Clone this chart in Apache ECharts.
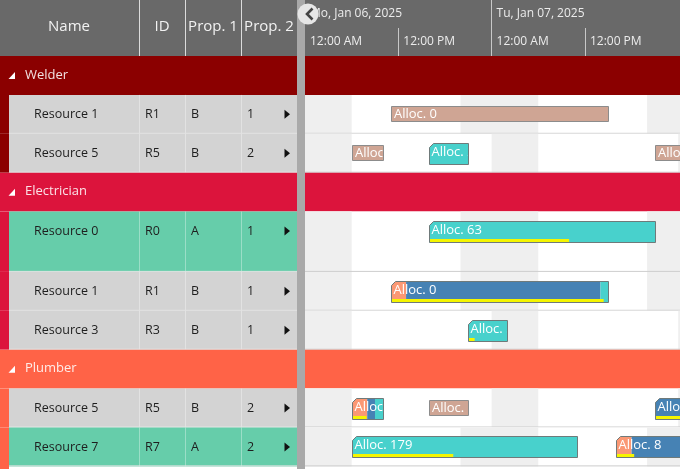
<!DOCTYPE html>
<html>
<head>
<meta charset="utf-8">
<script src="https://cdn.jsdelivr.net/npm/echarts@6.0.0/dist/echarts.min.js"></script>
<style>
html,body{margin:0;padding:0;background:#ffffff;}
#chart{width:680px;height:469px;}
</style>
</head>
<body>
<div id="chart"></div>
<script>
// ================= DATA =================
const columnHeaders = ['Name', 'ID', 'Prop. 1', 'Prop. 2'];
const dayTickValues = [0, 24];
const dayTickLabels = ['Mo, Jan 06, 2025', 'Tu, Jan 07, 2025'];
const hourTickValues = [0, 12, 24, 36];
const hourTickLabels = ['12:00 AM', '12:00 PM', '12:00 AM', '12:00 PM'];

const groupNames = ['Welder', 'Electrician', 'Plumber'];

const resourceNames = ['Resource 1', 'Resource 5', 'Resource 0', 'Resource 1', 'Resource 3', 'Resource 5', 'Resource 7'];
const resourceIds   = ['R1', 'R5', 'R0', 'R1', 'R3', 'R5', 'R7'];
const resourceGroup = [0, 0, 1, 1, 1, 2, 2];
const resourceProp1 = ['B', 'B', 'A', 'B', 'B', 'B', 'A'];
const resourceProp2 = ['1', '2', '1', '1', '1', '2', '2'];
// working hours of each resource (hour of day)
const shiftStartHour = [6, 6, 6, 6, 6, 6, 6];
const shiftEndHour   = [20, 24, 20, 20, 24, 24, 20];

// allocations: hours counted from Mon, Jan 06 2025 12:00 AM
const allocResource = [0, 1, 1, 1, 2, 3, 4, 5, 5, 5, 6, 6];
const allocStart    = [11, 6, 16, 45, 16, 11, 21, 6, 16, 45, 6, 40];
const allocEnd      = [39, 10, 21, 53, 45, 39, 26, 10, 21, 53, 35, 53];
const allocInGroup  = [0, 0, 1, 0, 1, 1, 1, 1, 0, 1, 1, 1];   // 0 = assigned through another group
const allocSetupEnd = [11, 6, 16, 45, 16, 13, 21, 8, 16, 45, 6, 42];
const allocRunEnd   = [11, 6, 16, 45, 16, 38, 21, 9, 16, 53, 6, 53];
const allocProgress = [0, 0, 0, 0, 0.62, 0.98, 0.17, 0.47, 0, 0.6, 0.45, 0.18];
const allocLabels   = ['Alloc. 0', 'Alloc. 94', 'Alloc. 22', 'Alloc. 118', 'Alloc. 63', 'Alloc. 0',
                       'Alloc. 51', 'Alloc. 94', 'Alloc. 22', 'Alloc. 118', 'Alloc. 179', 'Alloc. 8'];

// ================= LAYOUT / STYLE =================
const W = 680, H = 469;
const HEADER_H = 56;
const TABLE_W = 297;
const TIMELINE_LEFT = 305;
const ROW_PX = 38.9;
const resourceRowSpan = [1, 1, 1.55, 1, 1, 1, 1];
const VIEW_HOURS = 48.23;
const FONT = '"Open Sans", "Noto Sans", sans-serif';
const colTextX = [34, 145, 191, 247];
const colLineX = [139.5, 185.5, 241.5];
const headerCenterX = [69, 162, 213, 269];
const groupColors = ['#8b0000', '#dc143c', '#ff6347'];
const rowColors = { A: '#66cdaa', B: '#d3d3d3' };
const phaseColors = ['#fb9874', '#4682b4', '#48d1cc'];
const foreignColor = '#cfa594';
const offColor = '#efefef';

// rows built from the data
const rows = [];
const resRowY0 = [];
let acc = 0;
groupNames.forEach((g, gi) => {
  rows.push({ kind: 'group', gi: gi, ri: -1, y0: acc, y1: acc + 1 });
  acc += 1;
  resourceGroup.forEach((rg, ri) => {
    if (rg === gi) {
      rows.push({ kind: 'res', gi: gi, ri: ri, y0: acc, y1: acc + resourceRowSpan[ri] });
      resRowY0[ri] = acc;
      acc += resourceRowSpan[ri];
    }
  });
});
const yMax = (H - HEADER_H) / ROW_PX;

// ================= RENDERERS =================
function renderTable(params, api) {
  const r = rows[params.dataIndex];
  const y0 = api.coord([0, api.value(0)])[1];
  let y1 = api.coord([0, api.value(1)])[1];
  const X = v => api.coord([v, 0])[0];
  const gc = groupColors[r.gi];
  const kids = [];
  if (r.kind === 'group') {
    const cy = (y0 + y1) / 2;
    kids.push({ type: 'rect', shape: { x: X(0), y: y0, width: X(TABLE_W) - X(0), height: y1 - y0 }, style: { fill: gc } });
    kids.push({ type: 'polygon', shape: { points: [[X(15), cy - 3.5], [X(15), cy + 3.5], [X(8.5), cy + 3.5]] }, style: { fill: '#ffffff' } });
    kids.push({ type: 'text', style: { text: groupNames[r.gi], x: X(25), y: cy - 0.5, fill: 'rgba(255,255,255,0.88)',
      font: '13px ' + FONT, align: 'left', verticalAlign: 'middle' } });
  } else {
    const last = params.dataIndex === rows.length - 1;
    const stripBottom = last ? api.coord([0, yMax])[1] : y1;
    const ty = y0 + ROW_PX / 2;
    kids.push({ type: 'rect', shape: { x: X(0), y: y0, width: X(9) - X(0), height: stripBottom - y0 }, style: { fill: gc } });
    kids.push({ type: 'rect', shape: { x: X(9), y: y0, width: X(TABLE_W) - X(9), height: y1 - y0 }, style: { fill: rowColors[resourceProp1[r.ri]] } });
    colLineX.forEach(cx => {
      kids.push({ type: 'line', shape: { x1: X(cx), y1: y0, x2: X(cx), y2: y1 }, style: { stroke: 'rgba(255,255,255,0.35)', lineWidth: 1 } });
    });
    kids.push({ type: 'line', shape: { x1: X(9), y1: y1 - 0.5, x2: X(TABLE_W), y2: y1 - 0.5 }, style: { stroke: '#e4e4e4', lineWidth: 1 } });
    const vals = [resourceNames[r.ri], resourceIds[r.ri], resourceProp1[r.ri], resourceProp2[r.ri]];
    vals.forEach((t, k) => {
      kids.push({ type: 'text', style: { text: t, x: X(colTextX[k]), y: ty, fill: '#1e1e1e', font: '12.5px ' + FONT,
        align: 'left', verticalAlign: 'middle' } });
    });
    kids.push({ type: 'polygon', shape: { points: [[X(284.5), ty - 4.5], [X(290), ty], [X(284.5), ty + 4.5]] }, style: { fill: '#111111' } });
  }
  return { type: 'group', children: kids };
}

function renderTimelineRow(params, api) {
  const r = rows[params.dataIndex];
  const y0 = api.coord([0, api.value(0)])[1];
  const y1 = api.coord([0, api.value(1)])[1];
  const xa = api.coord([0, 0])[0];
  const xb = api.coord([VIEW_HOURS, 0])[0];
  const kids = [];
  if (r.kind === 'group') {
    kids.push({ type: 'rect', shape: { x: xa, y: y0, width: xb - xa, height: y1 - y0 }, style: { fill: groupColors[r.gi] } });
  } else {
    kids.push({ type: 'rect', shape: { x: xa, y: y0, width: xb - xa, height: y1 - y0 }, style: { fill: '#ffffff' } });
    const s = shiftStartHour[r.ri], e = shiftEndHour[r.ri];
    for (let d = 0; d < 3; d++) {
      const a = (d - 1) * 24 + e, b = d * 24 + s;
      if (b > a) {
        const pa = api.coord([a, 0])[0], pb = api.coord([b, 0])[0];
        kids.push({ type: 'rect', shape: { x: pa, y: y0, width: pb - pa, height: y1 - y0 }, style: { fill: offColor } });
      }
    }
    kids.push({ type: 'line', shape: { x1: xa, y1: y1 - 0.5, x2: xb, y2: y1 - 0.5 }, style: { stroke: '#cdcdcd', lineWidth: 1 } });
  }
  return { type: 'group', children: kids };
}

function renderAlloc(params, api) {
  const i = params.dataIndex;
  const ri = allocResource[i];
  const top = api.coord([0, resRowY0[ri]])[1];
  const bot = api.coord([0, resRowY0[ri] + 1])[1];
  const cy = (top + bot) / 2;
  const xs = Math.round(api.coord([api.value(0), 0])[0]) + 0.5;
  const xe = Math.round(api.coord([api.value(1), 0])[0]) + 0.5;
  const kids = [];
  let y, h;
  if (!allocInGroup[i]) {
    h = 15; y = Math.round(cy - 8) + 0.5;
    kids.push({ type: 'rect', shape: { x: xs, y: y, width: xe - xs, height: h }, style: { fill: foreignColor, stroke: '#8c8c8c', lineWidth: 1 } });
    kids.push({ type: 'group', clipPath: { type: 'rect', shape: { x: xs, y: y, width: xe - xs - 1, height: h } },
      children: [{ type: 'text', style: { text: allocLabels[i], x: xs + 2.5, y: y + h / 2, fill: '#ffffff', font: '13px ' + FONT, align: 'left', verticalAlign: 'middle' } }] });
  } else {
    h = 21; y = Math.round(cy - 10.5) + 0.5;
    const c = 4;
    const yt = x => y + Math.max(0, c - (x - xs));
    const bounds = [xs, api.coord([allocSetupEnd[i], 0])[0], api.coord([allocRunEnd[i], 0])[0], xe];
    for (let k = 0; k < 3; k++) {
      const a = Math.max(xs, Math.min(xe, bounds[k])), b = Math.max(xs, Math.min(xe, bounds[k + 1]));
      if (b - a <= 0.01) continue;
      const pts = [[a, yt(a)]];
      if (a < xs + c && b > xs + c) pts.push([xs + c, y]);
      pts.push([b, yt(b)], [b, y + h], [a, y + h]);
      kids.push({ type: 'polygon', shape: { points: pts }, style: { fill: phaseColors[k] } });
    }
    if (allocProgress[i] > 0) {
      const pw = (xe - xs) * allocProgress[i];
      kids.push({ type: 'rect', shape: { x: xs + 0.5, y: y + h - 3.5, width: pw - 1, height: 3 }, style: { fill: '#f5f500' } });
    }
    kids.push({ type: 'polygon', shape: { points: [[xs, y + c], [xs + c, y], [xe, y], [xe, y + h], [xs, y + h]] },
      style: { fill: 'none', stroke: '#6f7a7a', lineWidth: 1 } });
    kids.push({ type: 'group', clipPath: { type: 'rect', shape: { x: xs, y: y, width: xe - xs - 1, height: h } },
      children: [{ type: 'text', style: { text: allocLabels[i], x: xs + 2, y: y + 8.5, fill: '#ffffff', font: '13px ' + FONT, align: 'left', verticalAlign: 'middle' } }] });
  }
  return { type: 'group', children: kids };
}

// ================= CHART =================
const chart = echarts.init(document.getElementById('chart'), null, { renderer: 'canvas', width: W, height: H });

const headerGraphics = [
  { type: 'rect', shape: { x: 0, y: 0, width: W, height: HEADER_H }, style: { fill: '#696969' }, z: 1 },
  { type: 'rect', shape: { x: TABLE_W, y: 0, width: TIMELINE_LEFT - TABLE_W, height: H }, style: { fill: '#a9a9a9' }, z: 1 }
];
colLineX.forEach(x => headerGraphics.push({ type: 'line', shape: { x1: x, y1: 0, x2: x, y2: HEADER_H }, style: { stroke: '#dcdcdc', lineWidth: 1 }, z: 6 }));
columnHeaders.forEach((t, k) => headerGraphics.push({ type: 'text', x: headerCenterX[k], y: 27,
  style: { text: t, fill: '#f2f2f2', font: '15px ' + FONT, align: 'center', verticalAlign: 'middle' }, z: 6 }));
headerGraphics.push({ type: 'circle', shape: { cx: 308, cy: 14, r: 10.5 }, style: { fill: '#e6e6e6' }, z: 20 });
headerGraphics.push({ type: 'polyline', shape: { points: [[312.5, 8.5], [307, 14], [312.5, 19.5]] }, style: { stroke: '#444444', lineWidth: 2.6, fill: 'none' }, z: 21 });

const rowData = rows.map(r => [r.y0, r.y1]);
const allocData = allocStart.map((s, i) => [s, allocEnd[i]]);

chart.setOption({
  animation: false,
  backgroundColor: '#ffffff',
  textStyle: { fontFamily: FONT },
  grid: [
    { left: 0, top: HEADER_H, width: TABLE_W, bottom: 0, containLabel: false, outerBoundsMode: 'none' },
    { left: TIMELINE_LEFT, top: HEADER_H, right: 0, bottom: 0, containLabel: false, outerBoundsMode: 'none' }
  ],
  xAxis: [
    { gridIndex: 0, type: 'value', min: 0, max: TABLE_W, show: false },
    { gridIndex: 1, type: 'value', min: 0, max: VIEW_HOURS, interval: 12, position: 'top', z: 5,
      axisLine: { show: false }, splitLine: { show: false },
      axisTick: { show: true, inside: false, length: 28, customValues: [12, 24, 36], lineStyle: { color: '#c8c8c8', width: 1 } },
      axisLabel: { show: true, customValues: hourTickValues, formatter: v => hourTickLabels[hourTickValues.indexOf(Math.round(v))],
        align: 'left', verticalAlign: 'middle', margin: 14, padding: [0, 0, 0, 5], color: '#ececec', fontSize: 12, fontFamily: FONT,
        showMinLabel: true, showMaxLabel: true } },
    { gridIndex: 1, type: 'value', min: 0, max: VIEW_HOURS, interval: 24, position: 'top', offset: 28, z: 5,
      axisLine: { show: false }, splitLine: { show: false },
      axisTick: { show: true, inside: false, length: 28, customValues: [24], lineStyle: { color: '#c8c8c8', width: 1 } },
      axisLabel: { show: true, customValues: dayTickValues, formatter: v => dayTickLabels[dayTickValues.indexOf(Math.round(v))],
        align: 'left', verticalAlign: 'middle', margin: 14, padding: [0, 0, 0, 5], color: '#ececec', fontSize: 12, fontFamily: FONT,
        showMinLabel: true, showMaxLabel: true } }
  ],
  yAxis: [
    { gridIndex: 0, type: 'value', inverse: true, min: 0, max: yMax, show: false },
    { gridIndex: 1, type: 'value', inverse: true, min: 0, max: yMax, show: false }
  ],
  graphic: { elements: headerGraphics },
  series: [
    { type: 'custom', name: 'table', xAxisIndex: 0, yAxisIndex: 0, renderItem: renderTable, data: rowData,
      encode: { y: [0, 1] }, clip: true, z: 2, silent: true },
    { type: 'custom', name: 'timeline', xAxisIndex: 1, yAxisIndex: 1, renderItem: renderTimelineRow, data: rowData,
      encode: { y: [0, 1] }, clip: true, z: 1, silent: true },
    { type: 'custom', name: 'allocations', xAxisIndex: 1, yAxisIndex: 1, renderItem: renderAlloc, data: allocData,
      encode: { x: [0, 1] }, clip: true, z: 3, silent: true }
  ]
});
</script>
</body>
</html>
